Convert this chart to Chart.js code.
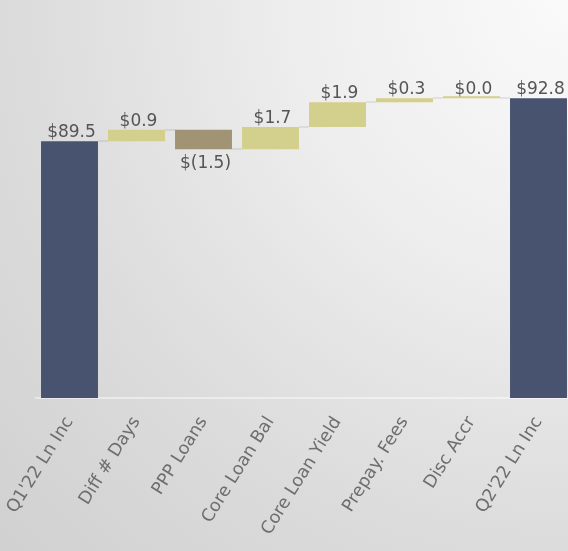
<!DOCTYPE html>
<html>
<head>
<meta charset="utf-8">
<script src="https://cdn.jsdelivr.net/npm/chart.js@4/dist/chart.umd.min.js"></script>
<style>
  html, body { margin: 0; padding: 0; width: 568px; height: 551px; overflow: hidden; }
  body {
    background: radial-gradient(circle 820px at 100% 0%,
      #fafafa 0px, #ededed 284px, #e5e5e5 400px, #dbdbdb 560px, #d0d0d0 800px);
  }
  #wrap { position: absolute; left: 0; top: 0; width: 572px; height: 551px; }
</style>
</head>
<body>
<div id="wrap"><canvas id="chart"></canvas></div>
<script>
// Loan income bridge, $ millions
const categories = ["Q1'22 Ln Inc", "Diff # Days", "PPP Loans", "Core Loan Bal",
                    "Core Loan Yield", "Prepay. Fees", "Disc Accr", "Q2'22 Ln Inc"];
const startTotal = 89.5;
const changes = [0.9, -1.5, 1.7, 1.9, 0.3, 0.0];
const endTotal = 92.8;

const COLOR_TOTAL = '#485370';
const COLOR_UP = '#d3cf8c';
const COLOR_DOWN = '#a09475';
const FONT = '"DejaVu Sans", Lato, sans-serif';

// Floating [from, to] ranges for each step of the bridge
const ranges = [[0, startTotal]];
const steps = [startTotal];
let running = startTotal;
changes.forEach(c => {
  const next = Math.round((running + c) * 10) / 10;
  ranges.push([running, next]);
  steps.push(c);
  running = next;
});
ranges.push([0, endTotal]);
steps.push(endTotal);

const isTotal = i => i === 0 || i === categories.length - 1;
const colors = steps.map((v, i) => isTotal(i) ? COLOR_TOTAL : (v < 0 ? COLOR_DOWN : COLOR_UP));
const fmt = v => v < 0 ? '$(' + Math.abs(v).toFixed(1) + ')' : '$' + v.toFixed(1);

const waterfallDecor = {
  id: 'waterfallDecor',
  beforeDatasetsDraw(chart) {
    const { ctx } = chart;
    const y = chart.scales.y;
    const bars = chart.getDatasetMeta(0).data;
    ctx.save();
    ctx.strokeStyle = 'rgba(0,0,0,0.07)';
    ctx.lineWidth = 2;
    for (let i = 0; i < bars.length - 1; i++) {
      const level = ranges[i][1];
      const py = Math.round(y.getPixelForValue(level));
      ctx.beginPath();
      ctx.moveTo(bars[i].x + bars[i].width / 2, py);
      ctx.lineTo(bars[i + 1].x - bars[i + 1].width / 2, py);
      ctx.stroke();
    }
    ctx.restore();
  },
  afterDatasetsDraw(chart) {
    const { ctx } = chart;
    const y = chart.scales.y;
    const bars = chart.getDatasetMeta(0).data;
    ctx.save();
    ctx.font = '17px ' + FONT;
    ctx.fillStyle = '#555555';
    ctx.textAlign = 'center';
    bars.forEach((bar, i) => {
      const v = steps[i];
      const top = y.getPixelForValue(Math.max(ranges[i][0], ranges[i][1]));
      const bottom = y.getPixelForValue(Math.min(ranges[i][0], ranges[i][1]));
      if (v < 0) {
        ctx.textBaseline = 'top';
        ctx.fillText(fmt(v), bar.x + 2, bottom + 6);
      } else {
        ctx.textBaseline = 'alphabetic';
        ctx.fillText(fmt(v), bar.x + 2, top - 4);
      }
    });
    ctx.restore();
  }
};

new Chart(document.getElementById('chart'), {
  type: 'bar',
  data: {
    labels: categories,
    datasets: [{
      data: ranges,
      backgroundColor: colors,
      borderWidth: 0,
      borderSkipped: false,
      categoryPercentage: 1,
      barPercentage: 0.85,
      minBarLength: 2
    }]
  },
  options: {
    responsive: true,
    maintainAspectRatio: false,
    animation: false,
    layout: { padding: { left: 36, right: 0, top: 0, bottom: 0 } },
    plugins: { legend: { display: false }, tooltip: { enabled: false } },
    scales: {
      x: {
        grid: { display: false },
        border: { display: true, color: 'rgba(255,255,255,0.45)', width: 2 },
        ticks: {
          color: '#6e6e6e',
          font: { family: FONT, size: 17.5 },
          minRotation: 58,
          maxRotation: 58,
          padding: 7,
          autoSkip: false
        },
        afterFit(scale) {
          scale.height = 153;
          scale.paddingLeft = 0;
          scale.paddingRight = 0;
        }
      },
      y: {
        display: false,
        min: 69.8,
        max: 100.35
      }
    }
  },
  plugins: [waterfallDecor]
});
</script>
</body>
</html>
